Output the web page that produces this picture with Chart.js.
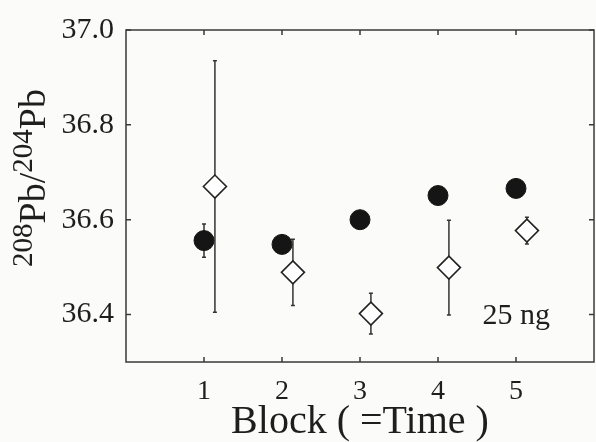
<!DOCTYPE html>
<html>
<head>
<meta charset="utf-8">
<script src="https://cdn.jsdelivr.net/npm/chart.js@4.4.1/dist/chart.umd.min.js"></script>
<style>
  html, body { margin: 0; padding: 0; background: #fbfbf9; }
  #wrap { width: 596px; height: 442px; }
</style>
</head>
<body>
<div id="wrap"><canvas id="chart" width="596" height="442"></canvas></div>
<script>
// ---- data ----
const blocks = [1, 2, 3, 4, 5];
const filledValues = [36.556, 36.548, 36.600, 36.651, 36.666];
const filledErrors = [0.035, 0.012, 0.012, 0.012, 0.012];
const openValues = [36.670, 36.489, 36.402, 36.499, 36.577];
const openErrors = [0.265, 0.070, 0.043, 0.100, 0.028];
const xTicks = [1, 2, 3, 4, 5];
const yTicks = [36.4, 36.6, 36.8, 37.0];
const xTitle = 'Block ( =Time )';
const noteText = '25 ng';

// open diamonds sit a little to the right of each block
const OPEN_SHIFT = 0.14;
const SERIF = '"Liberation Serif", "Times New Roman", serif';
const INK = '#1e1e1e';

Chart.defaults.font.family = SERIF;
Chart.defaults.color = INK;

// error bars, drawn under the markers
const errorBars = {
  id: 'errorBars',
  beforeDatasetsDraw(chart) {
    const { ctx, scales: { x, y } } = chart;
    ctx.save();
    ctx.strokeStyle = '#333';
    ctx.lineWidth = 1.5;
    chart.data.datasets.forEach(ds => {
      if (!ds.errors) return;
      ds.data.forEach((p, i) => {
        const e = ds.errors[i];
        if (!e) return;
        const px = x.getPixelForValue(p.x);
        const top = y.getPixelForValue(p.y + e);
        const bot = y.getPixelForValue(p.y - e);
        ctx.beginPath();
        ctx.moveTo(px, top); ctx.lineTo(px, bot);
        ctx.moveTo(px - 2, top); ctx.lineTo(px + 2, top);
        ctx.moveTo(px - 2, bot); ctx.lineTo(px + 2, bot);
        ctx.stroke();
      });
    });
    ctx.restore();
  }
};

// box frame with inward ticks on all four sides
const frame = {
  id: 'frame',
  afterDatasetsDraw(chart) {
    const { ctx, chartArea: a, scales: { x, y } } = chart;
    const t = 5;
    ctx.save();
    ctx.strokeStyle = '#3a3a3a';
    ctx.lineWidth = 1.5;
    ctx.strokeRect(a.left, a.top, a.right - a.left, a.bottom - a.top);
    ctx.beginPath();
    xTicks.forEach(v => {
      const px = x.getPixelForValue(v);
      ctx.moveTo(px, a.bottom); ctx.lineTo(px, a.bottom - t);
      ctx.moveTo(px, a.top); ctx.lineTo(px, a.top + t);
    });
    yTicks.forEach(v => {
      const py = y.getPixelForValue(v);
      ctx.moveTo(a.left, py); ctx.lineTo(a.left + t, py);
      ctx.moveTo(a.right, py); ctx.lineTo(a.right - t, py);
    });
    ctx.stroke();
    ctx.restore();
  }
};

// y title with superscript mass numbers, and the "25 ng" note
const labels = {
  id: 'labels',
  afterDraw(chart) {
    const { ctx, scales: { x, y } } = chart;
    const big = 38, small = 29;
    const parts = [
      ['208', small, true], ['Pb', big, false], ['/', big, false],
      ['204', small, true], ['Pb', big, false]
    ];
    ctx.save();
    ctx.fillStyle = INK;
    ctx.textBaseline = 'alphabetic';
    let total = 0;
    parts.forEach(p => { ctx.font = `${p[1]}px ${SERIF}`; total += ctx.measureText(p[0]).width; });
    ctx.translate(45, 178);
    ctx.rotate(-Math.PI / 2);
    let cx = -total / 2;
    parts.forEach(p => {
      ctx.font = `${p[1]}px ${SERIF}`;
      ctx.fillText(p[0], cx, p[2] ? -big * 0.34 : 0);
      cx += ctx.measureText(p[0]).width;
    });
    ctx.restore();

    ctx.save();
    ctx.fillStyle = INK;
    ctx.font = `30px ${SERIF}`;
    ctx.textAlign = 'left';
    ctx.textBaseline = 'alphabetic';
    ctx.fillText(noteText, x.getPixelForValue(4.57), y.getPixelForValue(36.381));
    ctx.restore();
  }
};

new Chart(document.getElementById('chart'), {
  type: 'scatter',
  data: {
    datasets: [
      {
        label: 'filled',
        data: blocks.map((b, i) => ({ x: b, y: filledValues[i] })),
        errors: filledErrors,
        pointStyle: 'circle',
        pointRadius: 10,
        pointHoverRadius: 10,
        backgroundColor: '#151515',
        borderColor: '#151515',
        borderWidth: 1
      },
      {
        label: 'open',
        data: blocks.map((b, i) => ({ x: b + OPEN_SHIFT, y: openValues[i] })),
        errors: openErrors,
        pointStyle: 'rectRot',
        pointRadius: 11.5,
        pointHoverRadius: 11.5,
        backgroundColor: '#ffffff',
        borderColor: '#222',
        borderWidth: 1.6
      }
    ]
  },
  options: {
    responsive: false,
    animation: false,
    layout: { autoPadding: false, padding: { top: 30, right: 2, left: 0, bottom: 0 } },
    plugins: { legend: { display: false }, tooltip: { enabled: false } },
    scales: {
      x: {
        type: 'linear', min: 0, max: 6,
        grid: { display: false, drawTicks: false },
        border: { display: false },
        afterBuildTicks: s => { s.ticks = xTicks.map(v => ({ value: v })); },
        afterFit: s => { s.height = 80; s.paddingLeft = 0; s.paddingRight = 0; },
        ticks: { font: { size: 28 }, padding: 13, color: INK, callback: v => String(v) },
        title: { display: true, text: xTitle, font: { size: 40, lineHeight: 1 }, padding: 0, color: INK }
      },
      y: {
        type: 'linear', min: 36.3, max: 37.0,
        grid: { display: false, drawTicks: false },
        border: { display: false },
        afterBuildTicks: s => { s.ticks = yTicks.map(v => ({ value: v })); },
        afterFit: s => { s.width = 126; s.paddingTop = 0; s.paddingBottom = 0; },
        ticks: { font: { size: 30 }, padding: 12, color: INK, callback: v => v.toFixed(1) }
      }
    }
  },
  plugins: [errorBars, frame, labels]
});
</script>
</body>
</html>
